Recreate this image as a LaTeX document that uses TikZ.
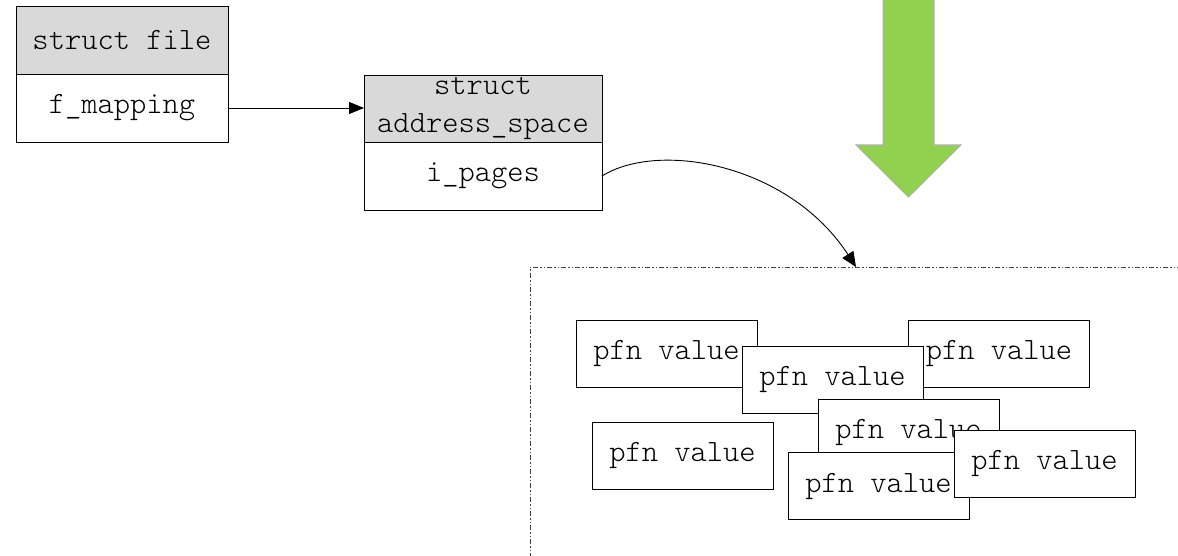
\documentclass[tikz,border=0pt]{standalone}
\usepackage{fontspec}
\setmonofont{Latin Modern Mono Light}
\usetikzlibrary{arrows.meta,positioning}
\definecolor{headgray}{HTML}{D9D9D9}
\definecolor{arrowgreen}{HTML}{92D050}

\begin{document}
\begin{tikzpicture}[x=1pt, y=-1pt,
	every node/.style={font=\fontsize{31}{38}\selectfont\ttfamily},
	headbox/.style={draw, fill=headgray, rectangle, line width=0.9pt, outer sep=0pt, inner sep=0pt, align=center, minimum height=68pt},
	fieldbox/.style={draw, fill=white, rectangle, line width=0.9pt, outer sep=0pt, inner sep=0pt, minimum height=68pt},
	pfnbox/.style={draw, fill=white, rectangle, line width=0.9pt, inner sep=0pt, minimum width=181pt, minimum height=67pt},
	regionline/.style={draw=black!75, line width=0.9pt, dash pattern=on 5pt off 2pt on 1.5pt off 2pt on 1.5pt off 2pt}]

	\useasboundingbox (0,0) rectangle (1178,556);

	% struct file
	\node (file) [headbox, minimum width=212pt] at (122,40) {struct file};
	\node (fmap) [fieldbox, minimum width=212pt, below=0pt of file] {f\_mapping};

	% struct address_space
	\node (ashead) [headbox, minimum width=238pt, minimum height=67pt] at (483,108.5) {struct\\address\_space};
	\node (ipages) [fieldbox, minimum width=238pt, below=0pt of ashead] {i\_pages};

	\draw[-{Triangle[length=15pt, width=12pt]}, line width=0.9pt] (fmap.east) -- (fmap.east -| ashead.west);

	% page cache region
	\coordinate (drop) at (856,267);
	\draw[regionline] (1182,267) -| (530,560);
	\draw[-{Triangle[length=15pt, width=13pt]}, line width=0.9pt] (ipages.east) .. controls (660,140) and (790,165) .. (drop);

	% big arrow
	\draw[fill=arrowgreen, draw=black!30, line width=1pt] (883,-5) -- (883,145) -- (856,145) -- (908.5,197) -- (961,145) -- (934,145) -- (934,-5) -- cycle;

	% pfn entries
	\node (pfn1) [pfnbox] at (666.5,353.5) {pfn value};
	\node (pfn2) [pfnbox] at (999,353.5) {pfn value};
	\node (pfn3) [pfnbox] at (832.5,380) {pfn value};
	\node (pfn4) [pfnbox] at (908.5,432.5) {pfn value};
	\node (pfn5) [pfnbox] at (682.5,455.5) {pfn value};
	\node (pfn6) [pfnbox] at (878.5,486) {pfn value};
	\node (pfn7) [pfnbox] at (1044.5,463.5) {pfn value};

\end{tikzpicture}
\end{document}
